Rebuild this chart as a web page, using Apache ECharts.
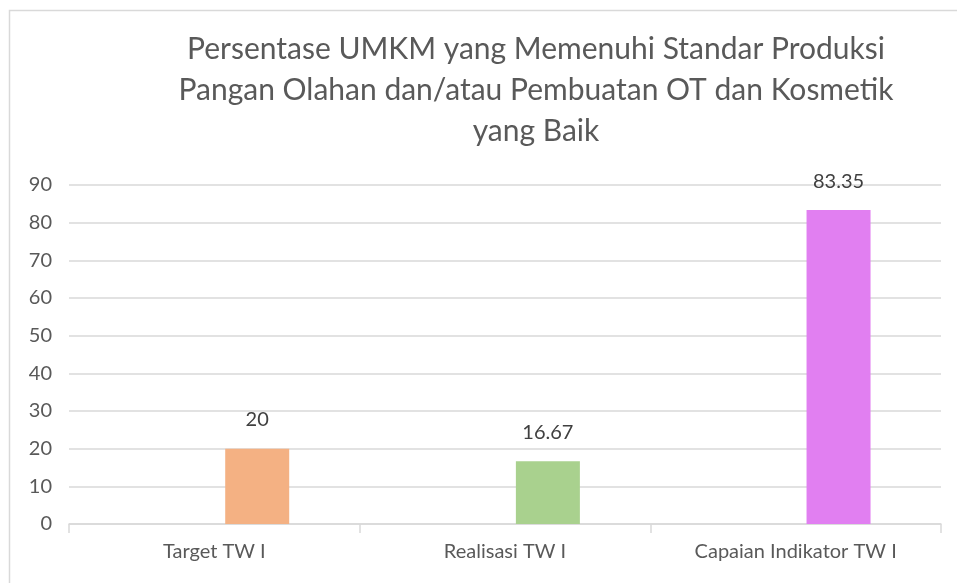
<!DOCTYPE html>
<html>
<head>
<meta charset="utf-8">
<script src="https://cdn.jsdelivr.net/npm/echarts@6/dist/echarts.min.js"></script>
<style>
  html, body { margin: 0; padding: 0; background: #fff; }
  #chart { width: 957px; height: 583px; }
</style>
</head>
<body>
<div id="chart"></div>
<script>
const categories = ['Target TW I', 'Realisasi TW I', 'Capaian Indikator TW I'];
const values = [20, 16.67, 83.35];
const barColors = ['#F4B183', '#A9D18E', '#E17FF1'];
const titleLines = [
  'Persentase UMKM yang Memenuhi Standar Produksi',
  'Pangan Olahan dan/atau Pembuatan OT dan Kosmetik',
  'yang Baik'
];

const font = 'Lato, "Open Sans", sans-serif';
const chart = echarts.init(document.getElementById('chart'));

chart.setOption({
  animation: false,
  backgroundColor: '#fff',
  graphic: [{
    type: 'rect', silent: true,
    shape: { x: 9.5, y: 10.5, width: 980, height: 620 },
    style: { fill: 'none', stroke: '#d9d9d9', lineWidth: 1.5 }
  }],
  title: {
    text: titleLines.join('\n'),
    left: 531, top: 24, textAlign: 'center',
    textStyle: { fontFamily: font, fontSize: 30, fontWeight: 'normal', color: '#595959', lineHeight: 41 }
  },
  grid: { left: 69, right: 16, top: 185, bottom: 59, containLabel: false },
  xAxis: {
    type: 'category', data: categories,
    axisLine: { lineStyle: { color: '#d9d9d9', width: 1.5 } },
    axisTick: { show: true, alignWithLabel: false, length: 9, lineStyle: { color: '#d9d9d9', width: 1.5 } },
    axisLabel: { fontFamily: font, fontSize: 20, color: '#595959', margin: 18 }
  },
  yAxis: {
    type: 'value', min: 0, max: 90, interval: 10,
    axisLine: { show: false }, axisTick: { show: false },
    splitLine: { lineStyle: { color: '#d9d9d9', width: 1.5 } },
    axisLabel: { fontFamily: font, fontSize: 20, color: '#595959', margin: 17 }
  },
  series: [
    { type: 'bar', data: categories.map(() => null), barWidth: 64, barGap: '34%' },
    {
      type: 'bar', barWidth: 64, barGap: '34%',
      data: values.map((v, i) => ({ value: v, itemStyle: { color: barColors[i] } })),
      label: { show: true, position: 'top', distance: 19, fontFamily: font, fontSize: 20, color: '#404040' }
    }
  ]
});
</script>
</body>
</html>
